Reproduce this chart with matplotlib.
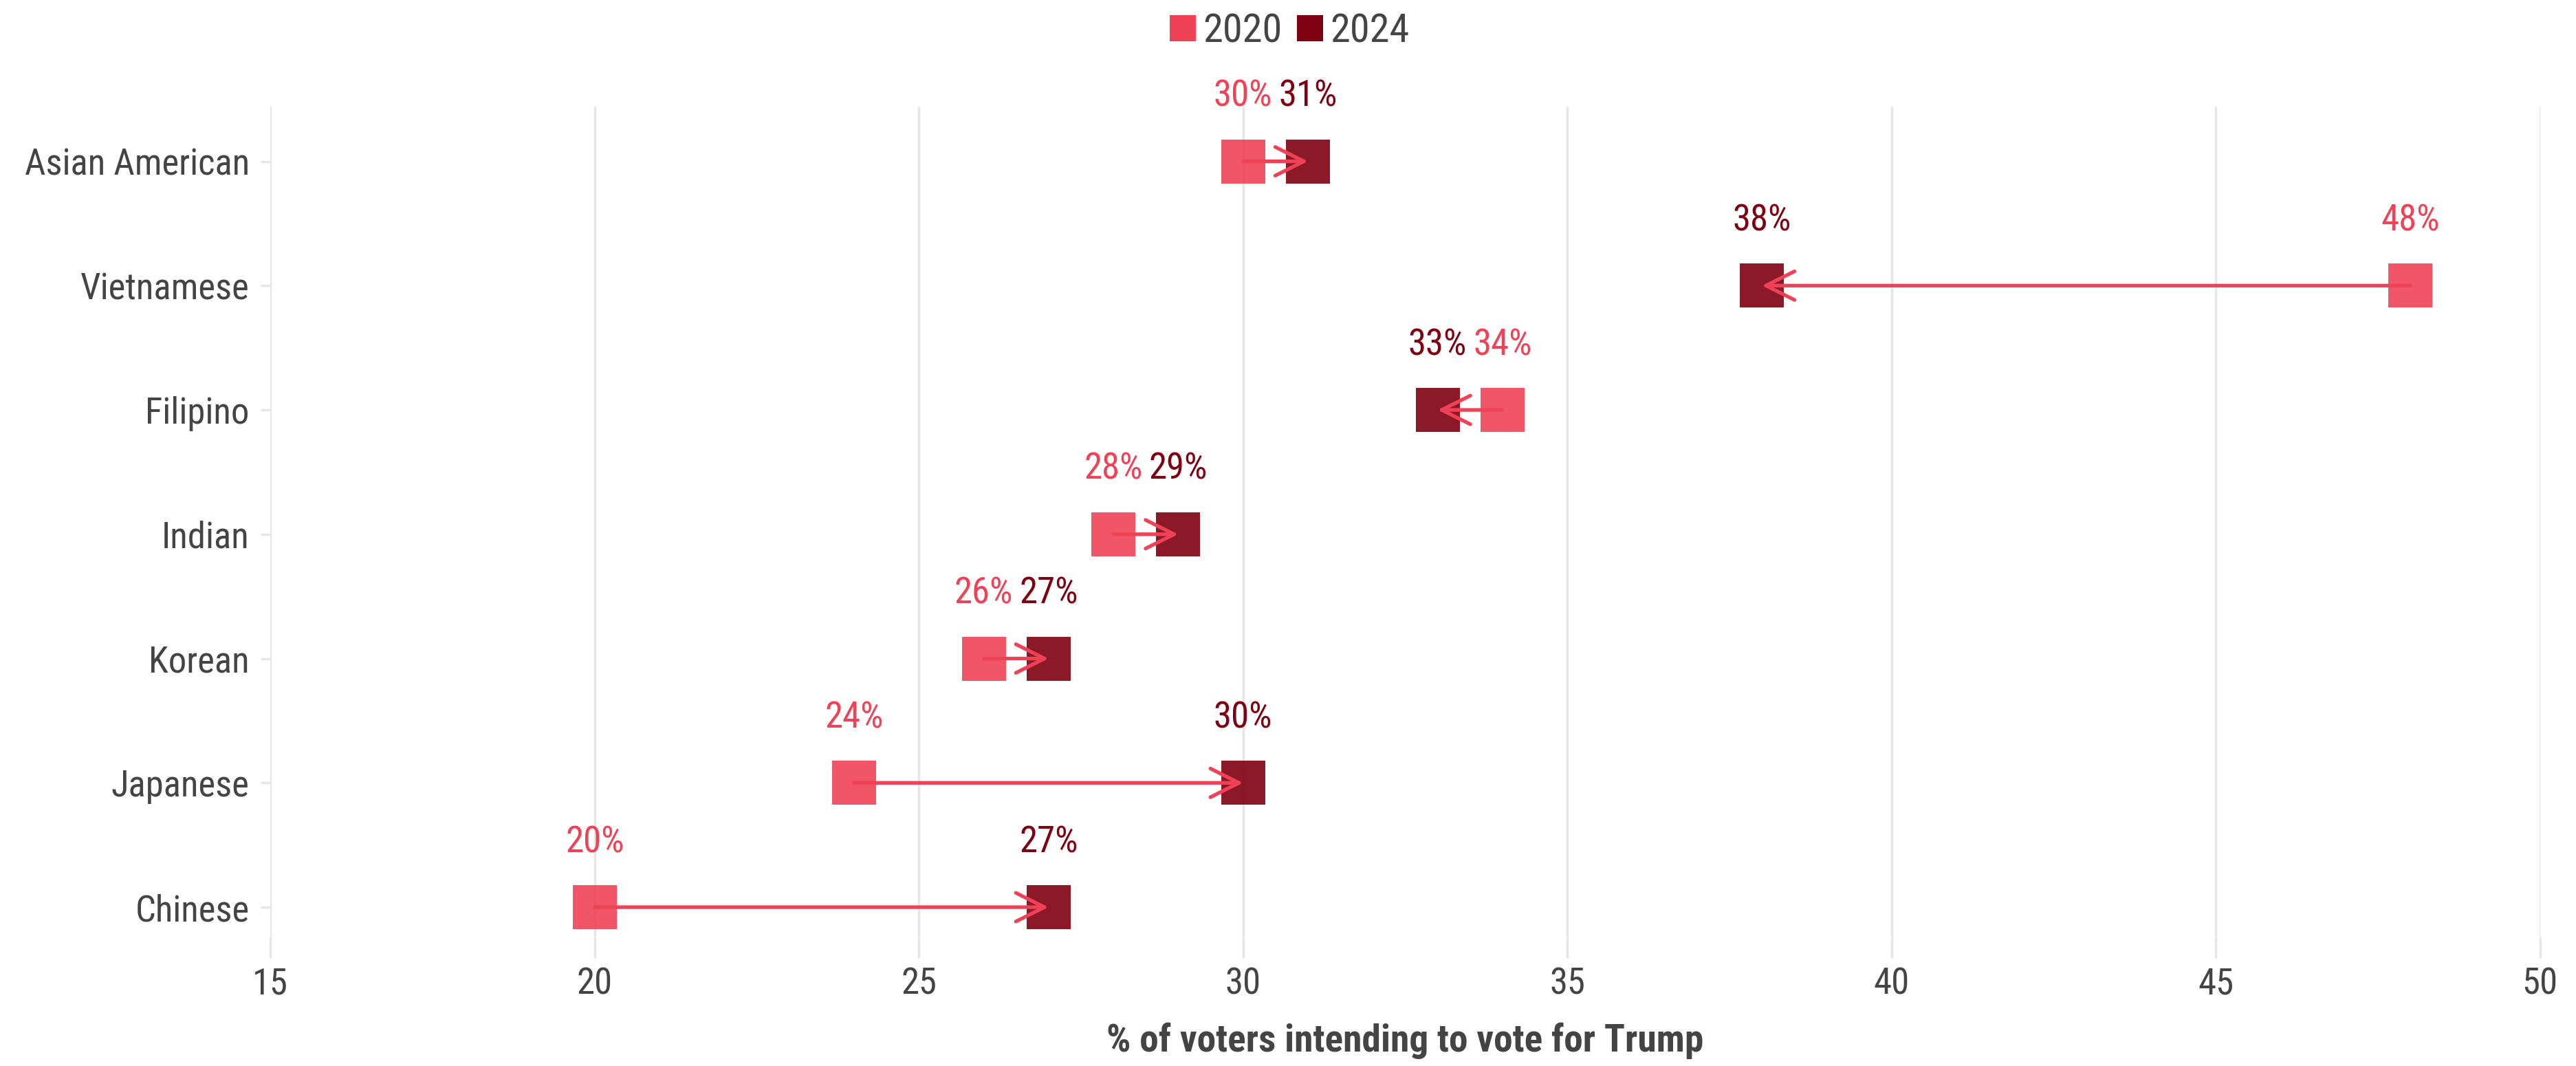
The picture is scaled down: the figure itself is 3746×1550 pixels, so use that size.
import matplotlib
matplotlib.use('Agg')
import matplotlib.pyplot as plt
from matplotlib import font_manager

names = {f.name for f in font_manager.fontManager.ttflist}
fam = 'Roboto Condensed' if 'Roboto Condensed' in names else 'Roboto'
plt.rcParams['font.family'] = [fam, 'DejaVu Sans']

# 데이터
groups = ['Asian American', 'Vietnamese', 'Filipino', 'Indian', 'Korean', 'Japanese', 'Chinese']
y2020 = [30, 48, 34, 28, 26, 24, 20]
y2024 = [31, 38, 33, 29, 27, 30, 27]

c2020 = '#F04257'
c2024 = '#7F0010'
txt = '#444444'
fs = 38 if fam == 'Roboto Condensed' else 33

fig = plt.figure(figsize=(37.46, 15.5), dpi=100)
ax = fig.add_axes([0.105, 0.121, 0.881, 0.779])

n = len(groups)
pos = [n - 1 - i for i in range(n)]

for i in range(n):
    y = pos[i]
    ax.plot(y2020[i], y, 's', ms=46, color=c2020, alpha=0.9, mew=0, zorder=3)
    ax.plot(y2024[i], y, 's', ms=46, color=c2024, alpha=0.9, mew=0, zorder=3)
    ax.annotate('', xy=(y2024[i], y), xytext=(y2020[i], y),
                arrowprops=dict(arrowstyle='->,head_length=3.0,head_width=1.5',
                                color=c2020, lw=3.8, shrinkA=0, shrinkB=0),
                zorder=4)
    # 라벨
    ax.annotate(f'{y2020[i]}%', (y2020[i], y), xytext=(0, 68), textcoords='offset points',
                ha='center', va='center', fontsize=fs, color=c2020)
    ax.annotate(f'{y2024[i]}%', (y2024[i], y), xytext=(0, 68), textcoords='offset points',
                ha='center', va='center', fontsize=fs, color=c2024)

ax.set_xlim(15, 50)
ax.set_ylim(-0.24, n - 1 + 0.44)
ax.set_xticks([15, 20, 25, 30, 35, 40, 45, 50])
ax.set_yticks(pos)
ax.set_yticklabels(groups)
ax.grid(axis='x', color='#e6e6e6', lw=2.5)
ax.set_axisbelow(True)
for s in ax.spines.values():
    s.set_visible(False)
ax.tick_params(axis='x', length=22, width=2.5, color='#e6e6e6', labelsize=fs, labelcolor=txt, pad=9)
ax.tick_params(axis='y', length=10, width=2.5, color='#e6e6e6', labelsize=fs, labelcolor=txt, pad=12)
ax.set_xlabel('% of voters intending to vote for Trump', fontsize=fs + 2, fontweight='bold',
              color=txt, labelpad=22)

# 범례
h1 = ax.plot([], [], 's', ms=28, color=c2020, mew=0, label='2020')[0]
h2 = ax.plot([], [], 's', ms=28, color=c2024, mew=0, label='2024')[0]
fig.legend(handles=[h1, h2], loc='upper center', bbox_to_anchor=(0.5, 1.022), ncol=2,
           frameon=False, fontsize=fs + 4, labelcolor=txt, handletextpad=0.1,
           columnspacing=0.3, handlelength=0.8)

fig.savefig('out.png', dpi=100, facecolor='white')
